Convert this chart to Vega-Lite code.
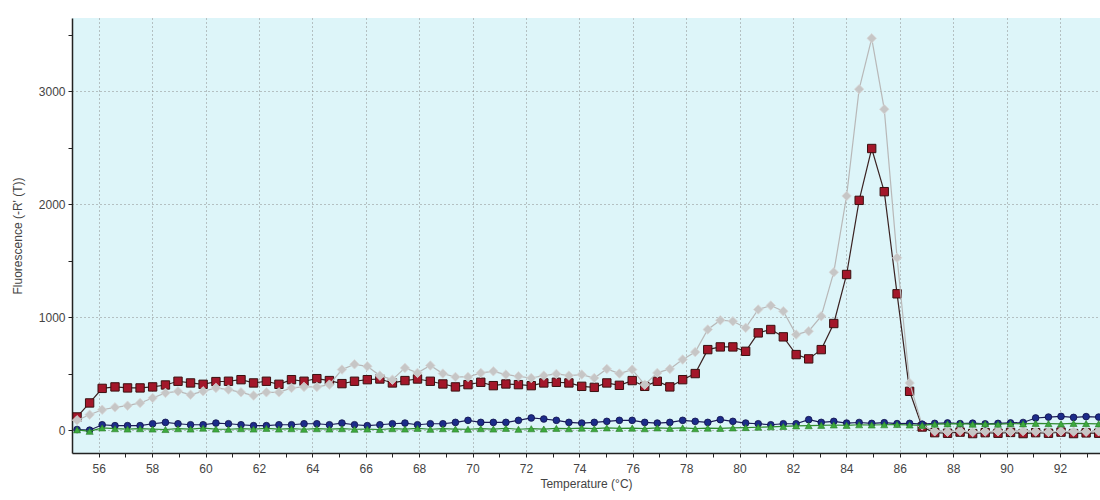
{
  "$schema": "https://vega.github.io/schema/vega-lite/v6.json",
  "width": 1028,
  "height": 435,
  "autosize": {"type": "none"},
  "padding": {"left": 72, "top": 18, "right": 0, "bottom": 47},
  "background": "white",
  "config": {
    "view": {"fill": "#DDF5F9", "stroke": null},
    "axis": {
      "labelFont": "Liberation Sans",
      "titleFont": "Liberation Sans",
      "labelColor": "#444444",
      "titleColor": "#444444",
      "titleFontWeight": "normal",
      "labelFontSize": 12,
      "titleFontSize": 12,
      "domainColor": "#222222",
      "domainWidth": 1.5,
      "tickColor": "#222222",
      "tickSize": 4,
      "gridColor": "#8A8A8A",
      "gridDash": [1, 3],
      "gridWidth": 1
    }
  },
  "data": {
    "values": [
      {"t": 55.19, "gray": 90, "red": 119, "blue": 8, "green": 5},
      {"t": 55.66, "gray": 139, "red": 243, "blue": 2, "green": -8},
      {"t": 56.13, "gray": 183, "red": 372, "blue": 50, "green": 22},
      {"t": 56.61, "gray": 204, "red": 385, "blue": 42, "green": 15},
      {"t": 57.08, "gray": 219, "red": 376, "blue": 42, "green": 12},
      {"t": 57.55, "gray": 243, "red": 376, "blue": 42, "green": 15},
      {"t": 58.02, "gray": 287, "red": 385, "blue": 59, "green": 12},
      {"t": 58.50, "gray": 332, "red": 402, "blue": 71, "green": 8},
      {"t": 58.97, "gray": 346, "red": 435, "blue": 59, "green": 15},
      {"t": 59.44, "gray": 316, "red": 420, "blue": 50, "green": 12},
      {"t": 59.91, "gray": 346, "red": 408, "blue": 50, "green": 20},
      {"t": 60.39, "gray": 376, "red": 432, "blue": 65, "green": 12},
      {"t": 60.86, "gray": 361, "red": 435, "blue": 59, "green": 10},
      {"t": 61.33, "gray": 337, "red": 449, "blue": 50, "green": 15},
      {"t": 61.80, "gray": 308, "red": 420, "blue": 42, "green": 12},
      {"t": 62.28, "gray": 337, "red": 435, "blue": 42, "green": 18},
      {"t": 62.75, "gray": 337, "red": 408, "blue": 50, "green": 12},
      {"t": 63.22, "gray": 376, "red": 449, "blue": 50, "green": 15},
      {"t": 63.69, "gray": 385, "red": 435, "blue": 59, "green": 10},
      {"t": 64.17, "gray": 385, "red": 458, "blue": 59, "green": 15},
      {"t": 64.64, "gray": 405, "red": 441, "blue": 50, "green": 12},
      {"t": 65.11, "gray": 538, "red": 414, "blue": 65, "green": 15},
      {"t": 65.58, "gray": 585, "red": 435, "blue": 50, "green": 10},
      {"t": 66.06, "gray": 567, "red": 449, "blue": 42, "green": 12},
      {"t": 66.53, "gray": 485, "red": 455, "blue": 50, "green": 8},
      {"t": 67.00, "gray": 449, "red": 420, "blue": 59, "green": 15},
      {"t": 67.47, "gray": 553, "red": 441, "blue": 65, "green": 12},
      {"t": 67.94, "gray": 509, "red": 455, "blue": 50, "green": 18},
      {"t": 68.42, "gray": 574, "red": 435, "blue": 59, "green": 10},
      {"t": 68.89, "gray": 503, "red": 411, "blue": 59, "green": 15},
      {"t": 69.36, "gray": 473, "red": 385, "blue": 71, "green": 12},
      {"t": 69.83, "gray": 473, "red": 405, "blue": 89, "green": 10},
      {"t": 70.31, "gray": 509, "red": 426, "blue": 71, "green": 15},
      {"t": 70.78, "gray": 523, "red": 396, "blue": 71, "green": 12},
      {"t": 71.25, "gray": 494, "red": 411, "blue": 71, "green": 18},
      {"t": 71.72, "gray": 479, "red": 405, "blue": 89, "green": 10},
      {"t": 72.20, "gray": 464, "red": 396, "blue": 110, "green": 15},
      {"t": 72.67, "gray": 485, "red": 420, "blue": 101, "green": 12},
      {"t": 73.14, "gray": 500, "red": 426, "blue": 89, "green": 18},
      {"t": 73.61, "gray": 485, "red": 420, "blue": 71, "green": 15},
      {"t": 74.09, "gray": 494, "red": 390, "blue": 65, "green": 20},
      {"t": 74.56, "gray": 464, "red": 381, "blue": 71, "green": 15},
      {"t": 75.03, "gray": 544, "red": 420, "blue": 80, "green": 22},
      {"t": 75.50, "gray": 503, "red": 399, "blue": 89, "green": 18},
      {"t": 75.98, "gray": 538, "red": 441, "blue": 89, "green": 20},
      {"t": 76.45, "gray": 405, "red": 390, "blue": 71, "green": 15},
      {"t": 76.92, "gray": 509, "red": 435, "blue": 65, "green": 22},
      {"t": 77.39, "gray": 544, "red": 385, "blue": 71, "green": 18},
      {"t": 77.87, "gray": 627, "red": 449, "blue": 89, "green": 22},
      {"t": 78.34, "gray": 693, "red": 503, "blue": 80, "green": 15},
      {"t": 78.81, "gray": 893, "red": 715, "blue": 71, "green": 20},
      {"t": 79.28, "gray": 975, "red": 739, "blue": 95, "green": 18},
      {"t": 79.75, "gray": 966, "red": 739, "blue": 80, "green": 22},
      {"t": 80.23, "gray": 908, "red": 700, "blue": 65, "green": 25},
      {"t": 80.70, "gray": 1070, "red": 863, "blue": 59, "green": 28},
      {"t": 81.17, "gray": 1105, "red": 893, "blue": 50, "green": 32},
      {"t": 81.64, "gray": 1055, "red": 828, "blue": 59, "green": 35},
      {"t": 82.12, "gray": 848, "red": 671, "blue": 59, "green": 40},
      {"t": 82.59, "gray": 878, "red": 633, "blue": 95, "green": 42},
      {"t": 83.06, "gray": 1011, "red": 715, "blue": 71, "green": 45},
      {"t": 83.53, "gray": 1400, "red": 946, "blue": 80, "green": 48},
      {"t": 84.01, "gray": 2075, "red": 1380, "blue": 65, "green": 45},
      {"t": 84.48, "gray": 3020, "red": 2036, "blue": 70, "green": 50},
      {"t": 84.95, "gray": 3470, "red": 2495, "blue": 62, "green": 48},
      {"t": 85.42, "gray": 2843, "red": 2113, "blue": 68, "green": 50},
      {"t": 85.90, "gray": 1528, "red": 1209, "blue": 60, "green": 52},
      {"t": 86.37, "gray": 420, "red": 346, "blue": 62, "green": 48},
      {"t": 86.84, "gray": 45, "red": 30, "blue": 55, "green": 45},
      {"t": 87.31, "gray": -8, "red": -20, "blue": 62, "green": 55},
      {"t": 87.79, "gray": -12, "red": -25, "blue": 66, "green": 58},
      {"t": 88.26, "gray": -5, "red": -15, "blue": 60, "green": 60},
      {"t": 88.73, "gray": -15, "red": -28, "blue": 64, "green": 55},
      {"t": 89.20, "gray": -10, "red": -20, "blue": 58, "green": 58},
      {"t": 89.68, "gray": -8, "red": -25, "blue": 62, "green": 55},
      {"t": 90.15, "gray": -12, "red": -18, "blue": 66, "green": 60},
      {"t": 90.62, "gray": -6, "red": -28, "blue": 70, "green": 58},
      {"t": 91.09, "gray": -10, "red": -20, "blue": 110, "green": 62},
      {"t": 91.57, "gray": -14, "red": -25, "blue": 118, "green": 60},
      {"t": 92.04, "gray": -8, "red": -15, "blue": 124, "green": 58},
      {"t": 92.51, "gray": -10, "red": -28, "blue": 115, "green": 62},
      {"t": 92.98, "gray": -12, "red": -22, "blue": 122, "green": 60},
      {"t": 93.45, "gray": -8, "red": -25, "blue": 118, "green": 58}
    ]
  },
  "transform": [{"fold": ["red", "gray", "blue", "green"], "as": ["series", "value"]}],
  "encoding": {
    "x": {
      "field": "t",
      "type": "quantitative",
      "scale": {"domain": [55, 93.5], "nice": false, "zero": false},
      "axis": {
        "title": "Temperature (°C)",
        "values": [56, 57, 58, 59, 60, 61, 62, 63, 64, 65, 66, 67, 68, 69, 70, 71, 72, 73, 74, 75, 76, 77, 78, 79, 80, 81, 82, 83, 84, 85, 86, 87, 88, 89, 90, 91, 92, 93],
        "labelExpr": "datum.value % 2 === 0 ? datum.label : ''",
        "labelOverlap": false,
        "labelFlush": false,
        "labelPadding": 6,
        "titlePadding": 4,
        "grid": true,
        "gridOpacity": {"condition": {"test": "datum.value % 2 === 0", "value": 1}, "value": 0}
      }
    },
    "y": {
      "field": "value",
      "type": "quantitative",
      "scale": {"domain": [-200, 3650], "nice": false, "zero": false},
      "axis": {
        "title": "Fluorescence (-R' (T))",
        "values": [0, 500, 1000, 1500, 2000, 2500, 3000, 3500],
        "format": "d",
        "labelExpr": "datum.value % 1000 === 0 ? datum.label : ''",
        "labelPadding": 3,
        "titlePadding": 14,
        "grid": true,
        "gridOpacity": {"condition": {"test": "datum.value % 1000 === 0", "value": 1}, "value": 0}
      }
    }
  },
  "layer": [
    {
      "transform": [{"filter": "datum.series === 'red'"}],
      "mark": {"type": "line", "color": "#3A2222", "strokeWidth": 1.2, "clip": true}
    },
    {
      "transform": [{"filter": "datum.series === 'red'"}],
      "mark": {"type": "point", "shape": "square", "filled": true, "fill": "#A3172A", "stroke": "#3A1010", "strokeWidth": 1, "size": 70, "opacity": 1, "clip": true}
    },
    {
      "transform": [{"filter": "datum.series === 'gray'"}],
      "mark": {"type": "line", "color": "#B8B8B8", "strokeWidth": 1.2, "clip": true}
    },
    {
      "transform": [{"filter": "datum.series === 'gray'"}],
      "mark": {"type": "point", "shape": "diamond", "filled": true, "fill": "#C6C6C6", "stroke": "#D8D8D8", "strokeWidth": 0.8, "size": 90, "opacity": 1, "clip": true}
    },
    {
      "transform": [{"filter": "datum.series === 'blue'"}],
      "mark": {"type": "line", "color": "#1A1A55", "strokeWidth": 1.2, "clip": true}
    },
    {
      "transform": [{"filter": "datum.series === 'blue'"}],
      "mark": {"type": "point", "shape": "circle", "filled": true, "fill": "#1C2C8A", "stroke": "#10104A", "strokeWidth": 0.8, "size": 45, "opacity": 1, "clip": true}
    },
    {
      "transform": [{"filter": "datum.series === 'green'"}],
      "mark": {"type": "line", "color": "#2E8B2E", "strokeWidth": 1.2, "clip": true}
    },
    {
      "transform": [{"filter": "datum.series === 'green'"}],
      "mark": {"type": "point", "shape": "triangle-up", "filled": true, "fill": "#3DAA3D", "stroke": "#2A7A2A", "strokeWidth": 0.6, "size": 50, "opacity": 1, "clip": true}
    }
  ]
}
